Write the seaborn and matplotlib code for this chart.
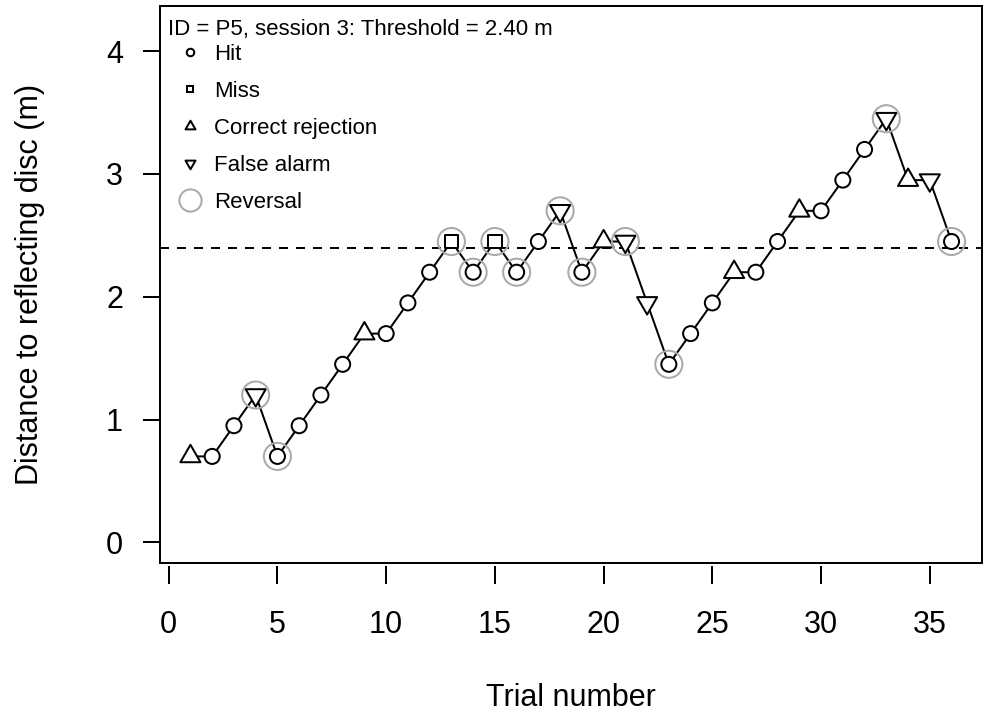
import numpy as np
import pandas as pd
import matplotlib
matplotlib.use("Agg")
import matplotlib.pyplot as plt
from matplotlib.path import Path
from matplotlib.lines import Line2D
from matplotlib.patches import Rectangle
import seaborn as sns

# ---------------- data ----------------
trials = list(range(1, 37))
distance = [0.70, 0.70, 0.95, 1.20, 0.70, 0.95, 1.20, 1.45, 1.70, 1.70,
            1.95, 2.20, 2.45, 2.20, 2.45, 2.20, 2.45, 2.70, 2.20, 2.45,
            2.45, 1.95, 1.45, 1.70, 1.95, 2.20, 2.20, 2.45, 2.70, 2.70,
            2.95, 3.20, 3.45, 2.95, 2.95, 2.45]
outcome = ["Correct rejection", "Hit", "Hit", "False alarm", "Hit", "Hit", "Hit", "Hit",
           "Correct rejection", "Hit", "Hit", "Hit", "Miss", "Hit", "Miss", "Hit", "Hit",
           "False alarm", "Hit", "Correct rejection", "False alarm", "False alarm", "Hit",
           "Hit", "Hit", "Correct rejection", "Hit", "Hit", "Correct rejection", "Hit",
           "Hit", "Hit", "False alarm", "Correct rejection", "False alarm", "Hit"]
reversal_trials = [4, 5, 13, 14, 15, 16, 18, 19, 21, 23, 33, 36]
threshold = 2.40
legend_labels = ["Hit", "Miss", "Correct rejection", "False alarm", "Reversal"]
x_ticks = [0, 5, 10, 15, 20, 25, 30, 35]
y_ticks = [0, 1, 2, 3, 4]
title_text = "ID = P5, session 3: Threshold = 2.40 m"

df = pd.DataFrame({"trial": trials, "distance": distance, "outcome": outcome})
df["reversal"] = df["trial"].isin(reversal_trials)

# ---------------- style ----------------
sns.set_style("white")
plt.rcParams["font.family"] = ["Liberation Sans", "DejaVu Sans"]
plt.rcParams["text.color"] = "black"
plt.rcParams["axes.labelcolor"] = "black"
plt.rcParams["xtick.color"] = "black"
plt.rcParams["ytick.color"] = "black"

LW = 1.44
GRAY = "#a9a9a9"

tri_up = Path([(0, 1), (-0.866, -0.5), (0.866, -0.5), (0, 1)],
              [Path.MOVETO, Path.LINETO, Path.LINETO, Path.CLOSEPOLY])
tri_down = Path([(0, -1), (-0.866, 0.5), (0.866, 0.5), (0, -1)],
                [Path.MOVETO, Path.LINETO, Path.LINETO, Path.CLOSEPOLY])

marker_map = {"Hit": "o", "Miss": "s", "Correct rejection": tri_up, "False alarm": tri_down}
size_map = {"Hit": 117, "Miss": 92, "Correct rejection": 280, "False alarm": 280}

fig = plt.figure(figsize=(9.85, 7.13), dpi=100)
ax = fig.add_axes([160 / 985, (713 - 563) / 713, (982 - 160) / 985, (563 - 6) / 713])

# connecting line
sns.lineplot(data=df, x="trial", y="distance", color="black", linewidth=LW,
             sort=False, estimator=None, ax=ax, zorder=2)
# outcome markers
sns.scatterplot(data=df, x="trial", y="distance", style="outcome", size="outcome",
                markers=marker_map, sizes=size_map, color="white", edgecolor="black",
                linewidth=LW, legend=False, ax=ax, zorder=3)
# reversal rings
sns.scatterplot(data=df[df["reversal"]], x="trial", y="distance", marker="o", s=380,
                facecolor="none", edgecolor=GRAY, linewidth=LW, legend=False,
                ax=ax, zorder=4)
# threshold
ax.axhline(threshold, color="black", linewidth=LW, linestyle=(0, (4.5, 4.0)), zorder=1)

ax.set_xlim(-0.4, 37.4)
ax.set_ylim(-0.168, 4.368)
ax.set_xticks(x_ticks)
ax.set_yticks(y_ticks)

for s in ax.spines.values():
    s.set_visible(False)
ax.spines["bottom"].set_position(("outward", 2.2))
ax.add_patch(Rectangle((0, 0), 1, 1, transform=ax.transAxes, fill=False,
                       edgecolor="black", linewidth=LW, clip_on=False, zorder=10))

ax.tick_params(axis="both", direction="out", length=12.6, width=LW, colors="black",
               labelsize=22, bottom=True, left=True, top=False, right=False)
ax.tick_params(axis="x", pad=19)
ax.tick_params(axis="y", pad=14)

ax.set_xlabel("Trial number", fontsize=22, color="black")
ax.set_ylabel("Distance to reflecting disc (m)", fontsize=22, color="black")
ax.xaxis.set_label_coords(0.5, -(682.5 - 563) / 557)
ax.yaxis.set_label_coords((45 - 160) / 822, 0.5)

# legend
fs_leg = 16
handles = [
    Line2D([], [], ls="none", marker="o", ms=5.4, mfc="white", mec="black", mew=LW),
    Line2D([], [], ls="none", marker="s", ms=4.8, mfc="white", mec="black", mew=LW),
    Line2D([], [], ls="none", marker=tri_up, ms=8.3, mfc="white", mec="black", mew=LW),
    Line2D([], [], ls="none", marker=tri_down, ms=8.3, mfc="white", mec="black", mew=LW),
    Line2D([], [], ls="none", marker="o", ms=16, mfc="none", mec=GRAY, mew=LW),
]
leg = ax.legend(handles, legend_labels, loc="upper left",
                bbox_to_anchor=(178.9 / 985, 1 - 44 / 713), bbox_transform=fig.transFigure,
                frameon=False, fontsize=fs_leg, borderpad=0, borderaxespad=0,
                handlelength=1.0, handletextpad=0.59, labelspacing=0.715, numpoints=1,
                labelcolor="black")

fig.text(168 / 985, 1 - 35 / 713, title_text, fontsize=16, ha="left", va="baseline",
         color="black")

fig.savefig("out.png", dpi=100, facecolor="white")
